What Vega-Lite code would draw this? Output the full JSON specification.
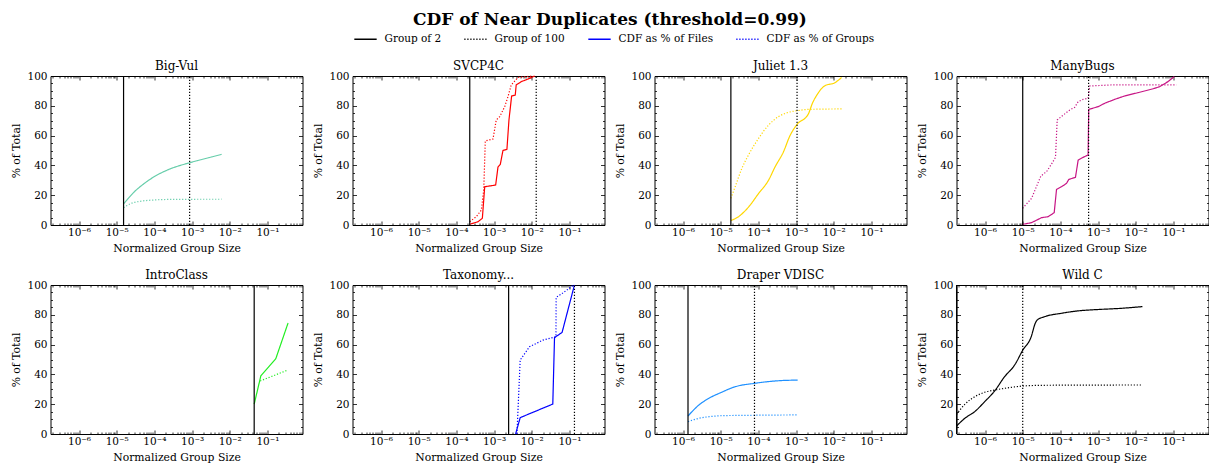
{
"$schema": "https://vega.github.io/schema/vega-lite/v6.json",
"background": "white",
"padding": {"left": 9.5, "top": 11, "right": 2, "bottom": 2},
"title": {"text": "CDF of Near Duplicates (threshold=0.99)", "fontSize": 17, "fontWeight": "bold", "font": "DejaVu Serif", "anchor": "middle", "offset": -2, "color": "#000"},
"datasets": {"all": [
{"d":"Big-Vul","kind":"CDF as % of Files","x":1.52e-5,"y":14.1},
{"d":"Big-Vul","kind":"CDF as % of Files","x":2.97e-5,"y":22.4},
{"d":"Big-Vul","kind":"CDF as % of Files","x":5.46e-5,"y":28},
{"d":"Big-Vul","kind":"CDF as % of Files","x":1.0e-4,"y":32.5},
{"d":"Big-Vul","kind":"CDF as % of Files","x":2.26e-4,"y":37},
{"d":"Big-Vul","kind":"CDF as % of Files","x":8.63e-4,"y":41.8},
{"d":"Big-Vul","kind":"CDF as % of Files","x":1.72e-3,"y":43.8},
{"d":"Big-Vul","kind":"CDF as % of Files","x":6.07e-3,"y":47.4},
{"d":"Big-Vul","kind":"CDF as % of Groups","x":1.52e-5,"y":11.6},
{"d":"Big-Vul","kind":"CDF as % of Groups","x":2.42e-5,"y":14.5},
{"d":"Big-Vul","kind":"CDF as % of Groups","x":4.46e-5,"y":16},
{"d":"Big-Vul","kind":"CDF as % of Groups","x":1.0e-4,"y":16.8},
{"d":"Big-Vul","kind":"CDF as % of Groups","x":3.4e-4,"y":17.2},
{"d":"Big-Vul","kind":"CDF as % of Groups","x":6.07e-3,"y":17.3},
{"d":"Big-Vul","kind":"Group of 2","x":1.52e-5},
{"d":"Big-Vul","kind":"Group of 100","x":8.6e-4},
{"d":"SVCP4C","kind":"CDF as % of Files","x":2.26e-4,"y":0.5},
{"d":"SVCP4C","kind":"CDF as % of Files","x":3.75e-4,"y":2.2},
{"d":"SVCP4C","kind":"CDF as % of Files","x":4.88e-4,"y":4.5},
{"d":"SVCP4C","kind":"CDF as % of Files","x":5.64e-4,"y":25.7},
{"d":"SVCP4C","kind":"CDF as % of Files","x":1.10e-3,"y":26.8},
{"d":"SVCP4C","kind":"CDF as % of Files","x":1.27e-3,"y":39},
{"d":"SVCP4C","kind":"CDF as % of Files","x":1.46e-3,"y":40.7},
{"d":"SVCP4C","kind":"CDF as % of Files","x":1.72e-3,"y":50},
{"d":"SVCP4C","kind":"CDF as % of Files","x":2.19e-3,"y":50.8},
{"d":"SVCP4C","kind":"CDF as % of Files","x":2.48e-3,"y":70.5},
{"d":"SVCP4C","kind":"CDF as % of Files","x":2.92e-3,"y":86.6},
{"d":"SVCP4C","kind":"CDF as % of Files","x":3.64e-3,"y":87.2},
{"d":"SVCP4C","kind":"CDF as % of Files","x":3.86e-3,"y":94},
{"d":"SVCP4C","kind":"CDF as % of Files","x":5.25e-3,"y":96.2},
{"d":"SVCP4C","kind":"CDF as % of Files","x":8.75e-3,"y":98.4},
{"d":"SVCP4C","kind":"CDF as % of Files","x":1.19e-2,"y":100},
{"d":"SVCP4C","kind":"CDF as % of Groups","x":2.26e-4,"y":2.2},
{"d":"SVCP4C","kind":"CDF as % of Groups","x":3.38e-4,"y":5.6},
{"d":"SVCP4C","kind":"CDF as % of Groups","x":4.58e-4,"y":10},
{"d":"SVCP4C","kind":"CDF as % of Groups","x":5.31e-4,"y":23.5},
{"d":"SVCP4C","kind":"CDF as % of Groups","x":5.85e-4,"y":56.4},
{"d":"SVCP4C","kind":"CDF as % of Groups","x":9.35e-4,"y":57.7},
{"d":"SVCP4C","kind":"CDF as % of Groups","x":1.14e-3,"y":70.5},
{"d":"SVCP4C","kind":"CDF as % of Groups","x":1.41e-3,"y":72.7},
{"d":"SVCP4C","kind":"CDF as % of Groups","x":1.91e-3,"y":79.4},
{"d":"SVCP4C","kind":"CDF as % of Groups","x":2.33e-3,"y":86},
{"d":"SVCP4C","kind":"CDF as % of Groups","x":2.85e-3,"y":94},
{"d":"SVCP4C","kind":"CDF as % of Groups","x":4.29e-3,"y":99},
{"d":"SVCP4C","kind":"CDF as % of Groups","x":1.07e-2,"y":100},
{"d":"SVCP4C","kind":"Group of 2","x":2.26e-4},
{"d":"SVCP4C","kind":"Group of 100","x":1.31e-2},
{"d":"Juliet 1.3","kind":"CDF as % of Files","x":1.86e-5,"y":3},
{"d":"Juliet 1.3","kind":"CDF as % of Files","x":2.97e-5,"y":5.6},
{"d":"Juliet 1.3","kind":"CDF as % of Files","x":5.46e-5,"y":12},
{"d":"Juliet 1.3","kind":"CDF as % of Files","x":1.0e-4,"y":21},
{"d":"Juliet 1.3","kind":"CDF as % of Files","x":1.85e-4,"y":30},
{"d":"Juliet 1.3","kind":"CDF as % of Files","x":2.77e-4,"y":39},
{"d":"Juliet 1.3","kind":"CDF as % of Files","x":4.6e-4,"y":49},
{"d":"Juliet 1.3","kind":"CDF as % of Files","x":6.9e-4,"y":60},
{"d":"Juliet 1.3","kind":"CDF as % of Files","x":1.06e-3,"y":67.5},
{"d":"Juliet 1.3","kind":"CDF as % of Files","x":2.11e-3,"y":74.5},
{"d":"Juliet 1.3","kind":"CDF as % of Files","x":2.69e-3,"y":81.5},
{"d":"Juliet 1.3","kind":"CDF as % of Files","x":3.72e-3,"y":88},
{"d":"Juliet 1.3","kind":"CDF as % of Files","x":5.82e-3,"y":93.5},
{"d":"Juliet 1.3","kind":"CDF as % of Files","x":1.07e-2,"y":95.5},
{"d":"Juliet 1.3","kind":"CDF as % of Files","x":1.61e-2,"y":99},
{"d":"Juliet 1.3","kind":"CDF as % of Groups","x":1.86e-5,"y":17.9},
{"d":"Juliet 1.3","kind":"CDF as % of Groups","x":2.42e-5,"y":25.7},
{"d":"Juliet 1.3","kind":"CDF as % of Groups","x":3.64e-5,"y":38},
{"d":"Juliet 1.3","kind":"CDF as % of Groups","x":5.46e-5,"y":47},
{"d":"Juliet 1.3","kind":"CDF as % of Groups","x":1.0e-4,"y":58},
{"d":"Juliet 1.3","kind":"CDF as % of Groups","x":1.85e-4,"y":67},
{"d":"Juliet 1.3","kind":"CDF as % of Groups","x":3.4e-4,"y":72.7},
{"d":"Juliet 1.3","kind":"CDF as % of Groups","x":6.25e-4,"y":75.6},
{"d":"Juliet 1.3","kind":"CDF as % of Groups","x":1.06e-3,"y":76.7},
{"d":"Juliet 1.3","kind":"CDF as % of Groups","x":2.11e-3,"y":77.6},
{"d":"Juliet 1.3","kind":"CDF as % of Groups","x":1.61e-2,"y":77.9},
{"d":"Juliet 1.3","kind":"Group of 2","x":1.86e-5},
{"d":"Juliet 1.3","kind":"Group of 100","x":1.06e-3},
{"d":"ManyBugs","kind":"CDF as % of Files","x":9.93e-6,"y":0.4},
{"d":"ManyBugs","kind":"CDF as % of Files","x":1.72e-5,"y":1.6},
{"d":"ManyBugs","kind":"CDF as % of Files","x":3.16e-5,"y":4.9},
{"d":"ManyBugs","kind":"CDF as % of Files","x":4.75e-5,"y":5.6},
{"d":"ManyBugs","kind":"CDF as % of Files","x":6.85e-5,"y":8.3},
{"d":"ManyBugs","kind":"CDF as % of Files","x":7.89e-5,"y":23.9},
{"d":"ManyBugs","kind":"CDF as % of Files","x":1.07e-4,"y":25.7},
{"d":"ManyBugs","kind":"CDF as % of Files","x":1.45e-4,"y":27.9},
{"d":"ManyBugs","kind":"CDF as % of Files","x":1.67e-4,"y":30.6},
{"d":"ManyBugs","kind":"CDF as % of Files","x":2.51e-4,"y":32},
{"d":"ManyBugs","kind":"CDF as % of Files","x":2.96e-4,"y":43.6},
{"d":"ManyBugs","kind":"CDF as % of Files","x":4.01e-4,"y":45.4},
{"d":"ManyBugs","kind":"CDF as % of Files","x":5.43e-4,"y":47},
{"d":"ManyBugs","kind":"CDF as % of Files","x":5.64e-4,"y":77.6},
{"d":"ManyBugs","kind":"CDF as % of Files","x":1.0e-3,"y":79.4},
{"d":"ManyBugs","kind":"CDF as % of Files","x":1.5e-3,"y":81.7},
{"d":"ManyBugs","kind":"CDF as % of Files","x":2.75e-3,"y":84.3},
{"d":"ManyBugs","kind":"CDF as % of Files","x":5.06e-3,"y":86.6},
{"d":"ManyBugs","kind":"CDF as % of Files","x":1.14e-2,"y":88.8},
{"d":"ManyBugs","kind":"CDF as % of Files","x":3.14e-2,"y":91.7},
{"d":"ManyBugs","kind":"CDF as % of Files","x":4.27e-2,"y":92.8},
{"d":"ManyBugs","kind":"CDF as % of Files","x":7.11e-2,"y":96.2},
{"d":"ManyBugs","kind":"CDF as % of Files","x":0.105,"y":99.6},
{"d":"ManyBugs","kind":"CDF as % of Groups","x":9.93e-6,"y":11.2},
{"d":"ManyBugs","kind":"CDF as % of Groups","x":1.72e-5,"y":17.9},
{"d":"ManyBugs","kind":"CDF as % of Groups","x":3.03e-5,"y":32.9},
{"d":"ManyBugs","kind":"CDF as % of Groups","x":4.29e-5,"y":35.8},
{"d":"ManyBugs","kind":"CDF as % of Groups","x":5.81e-5,"y":40.9},
{"d":"ManyBugs","kind":"CDF as % of Groups","x":7.41e-5,"y":45.4},
{"d":"ManyBugs","kind":"CDF as % of Groups","x":8.22e-5,"y":70.5},
{"d":"ManyBugs","kind":"CDF as % of Groups","x":1.19e-4,"y":73.8},
{"d":"ManyBugs","kind":"CDF as % of Groups","x":1.77e-4,"y":77.2},
{"d":"ManyBugs","kind":"CDF as % of Groups","x":2.40e-4,"y":79},
{"d":"ManyBugs","kind":"CDF as % of Groups","x":2.96e-4,"y":82.8},
{"d":"ManyBugs","kind":"CDF as % of Groups","x":4.01e-4,"y":84.3},
{"d":"ManyBugs","kind":"CDF as % of Groups","x":5.43e-4,"y":85},
{"d":"ManyBugs","kind":"CDF as % of Groups","x":6.0e-4,"y":93.3},
{"d":"ManyBugs","kind":"CDF as % of Groups","x":2.25e-3,"y":94},
{"d":"ManyBugs","kind":"CDF as % of Groups","x":0.12,"y":94},
{"d":"ManyBugs","kind":"Group of 2","x":1.0e-5},
{"d":"ManyBugs","kind":"Group of 100","x":5.6e-4},
{"d":"IntroClass","kind":"CDF as % of Files","x":0.0444,"y":20},
{"d":"IntroClass","kind":"CDF as % of Files","x":0.0667,"y":39},
{"d":"IntroClass","kind":"CDF as % of Files","x":0.166,"y":50.5},
{"d":"IntroClass","kind":"CDF as % of Files","x":0.352,"y":74.5},
{"d":"IntroClass","kind":"CDF as % of Groups","x":0.064,"y":35.6},
{"d":"IntroClass","kind":"CDF as % of Groups","x":0.352,"y":43},
{"d":"IntroClass","kind":"Group of 2","x":0.0444},
{"d":"Taxonomy...","kind":"CDF as % of Files","x":3.72e-3,"y":0},
{"d":"Taxonomy...","kind":"CDF as % of Files","x":4.93e-3,"y":11},
{"d":"Taxonomy...","kind":"CDF as % of Files","x":3.61e-2,"y":20.1},
{"d":"Taxonomy...","kind":"CDF as % of Files","x":4.01e-2,"y":64.7},
{"d":"Taxonomy...","kind":"CDF as % of Files","x":6.37e-2,"y":68.2},
{"d":"Taxonomy...","kind":"CDF as % of Files","x":0.1355,"y":100},
{"d":"Taxonomy...","kind":"CDF as % of Groups","x":4.04e-3,"y":0},
{"d":"Taxonomy...","kind":"CDF as % of Groups","x":4.93e-3,"y":49.7},
{"d":"Taxonomy...","kind":"CDF as % of Groups","x":8.75e-3,"y":58.6},
{"d":"Taxonomy...","kind":"CDF as % of Groups","x":1.97e-2,"y":63},
{"d":"Taxonomy...","kind":"CDF as % of Groups","x":4.37e-2,"y":65.3},
{"d":"Taxonomy...","kind":"CDF as % of Groups","x":4.42e-2,"y":91.7},
{"d":"Taxonomy...","kind":"CDF as % of Groups","x":6.65e-2,"y":94.6},
{"d":"Taxonomy...","kind":"CDF as % of Groups","x":0.130,"y":100},
{"d":"Taxonomy...","kind":"Group of 2","x":2.43e-3},
{"d":"Taxonomy...","kind":"Group of 100","x":0.1355},
{"d":"Draper VDISC","kind":"CDF as % of Files","x":1.355e-6,"y":12.1},
{"d":"Draper VDISC","kind":"CDF as % of Files","x":2.65e-6,"y":19.5},
{"d":"Draper VDISC","kind":"CDF as % of Files","x":4.88e-6,"y":24},
{"d":"Draper VDISC","kind":"CDF as % of Files","x":9.9e-6,"y":27.7},
{"d":"Draper VDISC","kind":"CDF as % of Files","x":2.47e-5,"y":31.8},
{"d":"Draper VDISC","kind":"CDF as % of Files","x":7.87e-5,"y":34},
{"d":"Draper VDISC","kind":"CDF as % of Files","x":2.82e-4,"y":35.6},
{"d":"Draper VDISC","kind":"CDF as % of Files","x":1.10e-3,"y":36.2},
{"d":"Draper VDISC","kind":"CDF as % of Groups","x":1.355e-6,"y":8.3},
{"d":"Draper VDISC","kind":"CDF as % of Groups","x":2.16e-6,"y":10},
{"d":"Draper VDISC","kind":"CDF as % of Groups","x":4.88e-6,"y":11.6},
{"d":"Draper VDISC","kind":"CDF as % of Groups","x":1.1e-5,"y":12.3},
{"d":"Draper VDISC","kind":"CDF as % of Groups","x":3.72e-5,"y":12.5},
{"d":"Draper VDISC","kind":"CDF as % of Groups","x":1.10e-3,"y":12.8},
{"d":"Draper VDISC","kind":"Group of 2","x":1.355e-6},
{"d":"Draper VDISC","kind":"Group of 100","x":7.87e-5},
{"d":"Wild C","kind":"CDF as % of Files","x":1.76e-7,"y":5.4},
{"d":"Wild C","kind":"CDF as % of Files","x":2.9e-7,"y":10.5},
{"d":"Wild C","kind":"CDF as % of Files","x":5.33e-7,"y":15},
{"d":"Wild C","kind":"CDF as % of Files","x":9.8e-7,"y":21.7},
{"d":"Wild C","kind":"CDF as % of Files","x":1.8e-6,"y":28.9},
{"d":"Wild C","kind":"CDF as % of Files","x":3.31e-6,"y":38.5},
{"d":"Wild C","kind":"CDF as % of Files","x":6.1e-6,"y":46.3},
{"d":"Wild C","kind":"CDF as % of Files","x":1.01e-5,"y":56.4},
{"d":"Wild C","kind":"CDF as % of Files","x":1.68e-5,"y":65.3},
{"d":"Wild C","kind":"CDF as % of Files","x":2.15e-5,"y":74.3},
{"d":"Wild C","kind":"CDF as % of Files","x":2.42e-5,"y":76.5},
{"d":"Wild C","kind":"CDF as % of Files","x":3.78e-5,"y":78.7},
{"d":"Wild C","kind":"CDF as % of Files","x":1.045e-4,"y":81},
{"d":"Wild C","kind":"CDF as % of Files","x":2.88e-4,"y":82.6},
{"d":"Wild C","kind":"CDF as % of Files","x":1.08e-3,"y":83.6},
{"d":"Wild C","kind":"CDF as % of Files","x":3.3e-3,"y":84.2},
{"d":"Wild C","kind":"CDF as % of Files","x":1.5e-2,"y":85.5},
{"d":"Wild C","kind":"CDF as % of Groups","x":1.76e-7,"y":13.2},
{"d":"Wild C","kind":"CDF as % of Groups","x":2.9e-7,"y":19.9},
{"d":"Wild C","kind":"CDF as % of Groups","x":5.33e-7,"y":25},
{"d":"Wild C","kind":"CDF as % of Groups","x":9.8e-7,"y":28},
{"d":"Wild C","kind":"CDF as % of Groups","x":1.8e-6,"y":29.5},
{"d":"Wild C","kind":"CDF as % of Groups","x":4.98e-6,"y":31.3},
{"d":"Wild C","kind":"CDF as % of Groups","x":1.01e-5,"y":32.2},
{"d":"Wild C","kind":"CDF as % of Groups","x":3.78e-5,"y":32.7},
{"d":"Wild C","kind":"CDF as % of Groups","x":1.5e-2,"y":32.9},
{"d":"Wild C","kind":"Group of 2","x":1.76e-7},
{"d":"Wild C","kind":"Group of 100","x":1.0e-5}
]},
"data": {"name": "all"},
"bounds": "flush",
"columns": 4,
"spacing": {"row": 60, "column": 50},
"concat": [
{"title": "Big-Vul", "width": 252, "height": 149,
 "transform": [{"filter": {"field": "d", "equal": "Big-Vul"}}],
 "layer": [
  {"transform": [{"filter": {"field": "kind", "oneOf": ["CDF as % of Files", "CDF as % of Groups"]}}],
   "mark": {"type": "line", "color": "#66cdaa", "strokeWidth": 1.2, "interpolate": "monotone"},
   "encoding": {
    "x": {"field": "x", "type": "quantitative", "scale": {"type": "log", "domain": [1.75e-7, 0.85], "nice": false}, "axis": {"orient": "bottom", "values": [2e-7,3e-7,4e-7,5e-7,6e-7,7e-7,8e-7,9e-7,1e-6,2e-6,3e-6,4e-6,5e-6,6e-6,7e-6,8e-6,9e-6,1e-5,2e-5,3e-5,4e-5,5e-5,6e-5,7e-5,8e-5,9e-5,1e-4,2e-4,3e-4,4e-4,5e-4,6e-4,7e-4,8e-4,9e-4,0.001,0.002,0.003,0.004,0.005,0.006,0.007,0.008,0.009,0.01,0.02,0.03,0.04,0.05,0.06,0.07,0.08,0.09,0.1,0.2,0.3,0.4,0.5,0.6,0.7,0.8], "labelExpr": "abs(log(datum.value)/LN10-round(log(datum.value)/LN10))<0.001 ? '10'+['⁻⁷','⁻⁶','⁻⁵','⁻⁴','⁻³','⁻²','⁻¹','⁰'][round(log(datum.value)/LN10)+7] : ''", "labelOverlap": false, "labelFlush": false, "tickSize": {"condition": {"test": "abs(log(datum.value)/LN10-round(log(datum.value)/LN10))<0.001", "value": -4}, "value": -2}, "labelPadding": 6, "title": "Normalized Group Size", "titlePadding": 3}},
    "y": {"field": "y", "type": "quantitative", "scale": {"domain": [0, 100], "nice": false}, "axis": {"orient": "left", "values": [0,5,10,15,20,25,30,35,40,45,50,55,60,65,70,75,80,85,90,95,100], "labelExpr": "datum.value % 20 == 0 ? datum.label : ''", "tickSize": {"condition": {"test": "datum.value % 20 == 0", "value": -4}, "value": -2}, "labelPadding": 7.5, "title": "% of Total", "titlePadding": 5}},
    "strokeDash": {"field": "kind", "type": "nominal", "scale": {"domain": ["Group of 2", "Group of 100", "CDF as % of Files", "CDF as % of Groups"], "range": [[1, 0], [1.2, 1.8], [1, 0], [1.2, 1.8]]}, "legend": {"title": null, "orient": "none", "legendX": 303, "legendY": -49, "direction": "horizontal", "symbolType": "stroke", "symbolSize": 500, "symbolStrokeWidth": 1.5, "labelFontSize": 10.5, "labelFont": "DejaVu Serif", "labelColor": "#000", "columnPadding": 19, "labelOffset": 7}}
   }},
  {"transform": [{"filter": {"field": "kind", "oneOf": ["Group of 2", "Group of 100"]}}],
   "mark": {"type": "rule", "strokeWidth": 1.2},
   "encoding": {
    "x": {"field": "x", "type": "quantitative", "scale": {"type": "log", "domain": [1.75e-7, 0.85], "nice": false}, "axis": {"orient": "top", "values": [2e-7,3e-7,4e-7,5e-7,6e-7,7e-7,8e-7,9e-7,1e-6,2e-6,3e-6,4e-6,5e-6,6e-6,7e-6,8e-6,9e-6,1e-5,2e-5,3e-5,4e-5,5e-5,6e-5,7e-5,8e-5,9e-5,1e-4,2e-4,3e-4,4e-4,5e-4,6e-4,7e-4,8e-4,9e-4,0.001,0.002,0.003,0.004,0.005,0.006,0.007,0.008,0.009,0.01,0.02,0.03,0.04,0.05,0.06,0.07,0.08,0.09,0.1,0.2,0.3,0.4,0.5,0.6,0.7,0.8], "labels": false, "title": null, "tickSize": {"condition": {"test": "abs(log(datum.value)/LN10-round(log(datum.value)/LN10))<0.001", "value": -4}, "value": -2}}},
    "y": {"datum": 0, "type": "quantitative", "scale": {"domain": [0, 100], "nice": false}, "axis": {"orient": "right", "values": [0,5,10,15,20,25,30,35,40,45,50,55,60,65,70,75,80,85,90,95,100], "labels": false, "title": null, "tickSize": {"condition": {"test": "datum.value % 20 == 0", "value": -4}, "value": -2}}},
    "y2": {"datum": 100},
    "color": {"field": "kind", "type": "nominal", "scale": {"domain": ["Group of 2", "Group of 100", "CDF as % of Files", "CDF as % of Groups"], "range": ["#000000", "#000000", "#0000ff", "#0000ff"]}, "legend": {"title": null, "orient": "none", "legendX": 303, "legendY": -49, "direction": "horizontal", "symbolType": "stroke", "symbolSize": 500, "symbolStrokeWidth": 1.5, "labelFontSize": 10.5, "labelFont": "DejaVu Serif", "labelColor": "#000", "columnPadding": 19, "labelOffset": 7}},
    "strokeDash": {"field": "kind", "type": "nominal", "scale": {"domain": ["Group of 2", "Group of 100", "CDF as % of Files", "CDF as % of Groups"], "range": [[1, 0], [1.2, 1.8], [1, 0], [1.2, 1.8]]}, "legend": {"title": null, "orient": "none", "legendX": 303, "legendY": -49, "direction": "horizontal", "symbolType": "stroke", "symbolSize": 500, "symbolStrokeWidth": 1.5, "labelFontSize": 10.5, "labelFont": "DejaVu Serif", "labelColor": "#000", "columnPadding": 19, "labelOffset": 7}}
   }}
 ],
 "resolve": {"axis": {"x": "independent", "y": "independent"}}
},
{"title": "SVCP4C", "width": 252, "height": 149,
 "transform": [{"filter": {"field": "d", "equal": "SVCP4C"}}],
 "layer": [
  {"transform": [{"filter": {"field": "kind", "oneOf": ["CDF as % of Files", "CDF as % of Groups"]}}],
   "mark": {"type": "line", "color": "#ff0000", "strokeWidth": 1.2, "interpolate": "linear"},
   "encoding": {
    "x": {"field": "x", "type": "quantitative", "scale": {"type": "log", "domain": [1.75e-7, 0.85], "nice": false}, "axis": {"orient": "bottom", "values": [2e-7,3e-7,4e-7,5e-7,6e-7,7e-7,8e-7,9e-7,1e-6,2e-6,3e-6,4e-6,5e-6,6e-6,7e-6,8e-6,9e-6,1e-5,2e-5,3e-5,4e-5,5e-5,6e-5,7e-5,8e-5,9e-5,1e-4,2e-4,3e-4,4e-4,5e-4,6e-4,7e-4,8e-4,9e-4,0.001,0.002,0.003,0.004,0.005,0.006,0.007,0.008,0.009,0.01,0.02,0.03,0.04,0.05,0.06,0.07,0.08,0.09,0.1,0.2,0.3,0.4,0.5,0.6,0.7,0.8], "labelExpr": "abs(log(datum.value)/LN10-round(log(datum.value)/LN10))<0.001 ? '10'+['⁻⁷','⁻⁶','⁻⁵','⁻⁴','⁻³','⁻²','⁻¹','⁰'][round(log(datum.value)/LN10)+7] : ''", "labelOverlap": false, "labelFlush": false, "tickSize": {"condition": {"test": "abs(log(datum.value)/LN10-round(log(datum.value)/LN10))<0.001", "value": -4}, "value": -2}, "labelPadding": 6, "title": "Normalized Group Size", "titlePadding": 3}},
    "y": {"field": "y", "type": "quantitative", "scale": {"domain": [0, 100], "nice": false}, "axis": {"orient": "left", "values": [0,5,10,15,20,25,30,35,40,45,50,55,60,65,70,75,80,85,90,95,100], "labelExpr": "datum.value % 20 == 0 ? datum.label : ''", "tickSize": {"condition": {"test": "datum.value % 20 == 0", "value": -4}, "value": -2}, "labelPadding": 7.5, "title": "% of Total", "titlePadding": 5}},
    "strokeDash": {"field": "kind", "type": "nominal", "scale": {"domain": ["Group of 2", "Group of 100", "CDF as % of Files", "CDF as % of Groups"], "range": [[1, 0], [1.2, 1.8], [1, 0], [1.2, 1.8]]}, "legend": {"title": null, "orient": "none", "legendX": 303, "legendY": -49, "direction": "horizontal", "symbolType": "stroke", "symbolSize": 500, "symbolStrokeWidth": 1.5, "labelFontSize": 10.5, "labelFont": "DejaVu Serif", "labelColor": "#000", "columnPadding": 19, "labelOffset": 7}}
   }},
  {"transform": [{"filter": {"field": "kind", "oneOf": ["Group of 2", "Group of 100"]}}],
   "mark": {"type": "rule", "strokeWidth": 1.2},
   "encoding": {
    "x": {"field": "x", "type": "quantitative", "scale": {"type": "log", "domain": [1.75e-7, 0.85], "nice": false}, "axis": {"orient": "top", "values": [2e-7,3e-7,4e-7,5e-7,6e-7,7e-7,8e-7,9e-7,1e-6,2e-6,3e-6,4e-6,5e-6,6e-6,7e-6,8e-6,9e-6,1e-5,2e-5,3e-5,4e-5,5e-5,6e-5,7e-5,8e-5,9e-5,1e-4,2e-4,3e-4,4e-4,5e-4,6e-4,7e-4,8e-4,9e-4,0.001,0.002,0.003,0.004,0.005,0.006,0.007,0.008,0.009,0.01,0.02,0.03,0.04,0.05,0.06,0.07,0.08,0.09,0.1,0.2,0.3,0.4,0.5,0.6,0.7,0.8], "labels": false, "title": null, "tickSize": {"condition": {"test": "abs(log(datum.value)/LN10-round(log(datum.value)/LN10))<0.001", "value": -4}, "value": -2}}},
    "y": {"datum": 0, "type": "quantitative", "scale": {"domain": [0, 100], "nice": false}, "axis": {"orient": "right", "values": [0,5,10,15,20,25,30,35,40,45,50,55,60,65,70,75,80,85,90,95,100], "labels": false, "title": null, "tickSize": {"condition": {"test": "datum.value % 20 == 0", "value": -4}, "value": -2}}},
    "y2": {"datum": 100},
    "color": {"field": "kind", "type": "nominal", "scale": {"domain": ["Group of 2", "Group of 100", "CDF as % of Files", "CDF as % of Groups"], "range": ["#000000", "#000000", "#0000ff", "#0000ff"]}, "legend": {"title": null, "orient": "none", "legendX": 303, "legendY": -49, "direction": "horizontal", "symbolType": "stroke", "symbolSize": 500, "symbolStrokeWidth": 1.5, "labelFontSize": 10.5, "labelFont": "DejaVu Serif", "labelColor": "#000", "columnPadding": 19, "labelOffset": 7}},
    "strokeDash": {"field": "kind", "type": "nominal", "scale": {"domain": ["Group of 2", "Group of 100", "CDF as % of Files", "CDF as % of Groups"], "range": [[1, 0], [1.2, 1.8], [1, 0], [1.2, 1.8]]}, "legend": {"title": null, "orient": "none", "legendX": 303, "legendY": -49, "direction": "horizontal", "symbolType": "stroke", "symbolSize": 500, "symbolStrokeWidth": 1.5, "labelFontSize": 10.5, "labelFont": "DejaVu Serif", "labelColor": "#000", "columnPadding": 19, "labelOffset": 7}}
   }}
 ],
 "resolve": {"axis": {"x": "independent", "y": "independent"}}
},
{"title": "Juliet 1.3", "width": 252, "height": 149,
 "transform": [{"filter": {"field": "d", "equal": "Juliet 1.3"}}],
 "layer": [
  {"transform": [{"filter": {"field": "kind", "oneOf": ["CDF as % of Files", "CDF as % of Groups"]}}],
   "mark": {"type": "line", "color": "#ffd700", "strokeWidth": 1.2, "interpolate": "monotone"},
   "encoding": {
    "x": {"field": "x", "type": "quantitative", "scale": {"type": "log", "domain": [1.75e-7, 0.85], "nice": false}, "axis": {"orient": "bottom", "values": [2e-7,3e-7,4e-7,5e-7,6e-7,7e-7,8e-7,9e-7,1e-6,2e-6,3e-6,4e-6,5e-6,6e-6,7e-6,8e-6,9e-6,1e-5,2e-5,3e-5,4e-5,5e-5,6e-5,7e-5,8e-5,9e-5,1e-4,2e-4,3e-4,4e-4,5e-4,6e-4,7e-4,8e-4,9e-4,0.001,0.002,0.003,0.004,0.005,0.006,0.007,0.008,0.009,0.01,0.02,0.03,0.04,0.05,0.06,0.07,0.08,0.09,0.1,0.2,0.3,0.4,0.5,0.6,0.7,0.8], "labelExpr": "abs(log(datum.value)/LN10-round(log(datum.value)/LN10))<0.001 ? '10'+['⁻⁷','⁻⁶','⁻⁵','⁻⁴','⁻³','⁻²','⁻¹','⁰'][round(log(datum.value)/LN10)+7] : ''", "labelOverlap": false, "labelFlush": false, "tickSize": {"condition": {"test": "abs(log(datum.value)/LN10-round(log(datum.value)/LN10))<0.001", "value": -4}, "value": -2}, "labelPadding": 6, "title": "Normalized Group Size", "titlePadding": 3}},
    "y": {"field": "y", "type": "quantitative", "scale": {"domain": [0, 100], "nice": false}, "axis": {"orient": "left", "values": [0,5,10,15,20,25,30,35,40,45,50,55,60,65,70,75,80,85,90,95,100], "labelExpr": "datum.value % 20 == 0 ? datum.label : ''", "tickSize": {"condition": {"test": "datum.value % 20 == 0", "value": -4}, "value": -2}, "labelPadding": 7.5, "title": "% of Total", "titlePadding": 5}},
    "strokeDash": {"field": "kind", "type": "nominal", "scale": {"domain": ["Group of 2", "Group of 100", "CDF as % of Files", "CDF as % of Groups"], "range": [[1, 0], [1.2, 1.8], [1, 0], [1.2, 1.8]]}, "legend": {"title": null, "orient": "none", "legendX": 303, "legendY": -49, "direction": "horizontal", "symbolType": "stroke", "symbolSize": 500, "symbolStrokeWidth": 1.5, "labelFontSize": 10.5, "labelFont": "DejaVu Serif", "labelColor": "#000", "columnPadding": 19, "labelOffset": 7}}
   }},
  {"transform": [{"filter": {"field": "kind", "oneOf": ["Group of 2", "Group of 100"]}}],
   "mark": {"type": "rule", "strokeWidth": 1.2},
   "encoding": {
    "x": {"field": "x", "type": "quantitative", "scale": {"type": "log", "domain": [1.75e-7, 0.85], "nice": false}, "axis": {"orient": "top", "values": [2e-7,3e-7,4e-7,5e-7,6e-7,7e-7,8e-7,9e-7,1e-6,2e-6,3e-6,4e-6,5e-6,6e-6,7e-6,8e-6,9e-6,1e-5,2e-5,3e-5,4e-5,5e-5,6e-5,7e-5,8e-5,9e-5,1e-4,2e-4,3e-4,4e-4,5e-4,6e-4,7e-4,8e-4,9e-4,0.001,0.002,0.003,0.004,0.005,0.006,0.007,0.008,0.009,0.01,0.02,0.03,0.04,0.05,0.06,0.07,0.08,0.09,0.1,0.2,0.3,0.4,0.5,0.6,0.7,0.8], "labels": false, "title": null, "tickSize": {"condition": {"test": "abs(log(datum.value)/LN10-round(log(datum.value)/LN10))<0.001", "value": -4}, "value": -2}}},
    "y": {"datum": 0, "type": "quantitative", "scale": {"domain": [0, 100], "nice": false}, "axis": {"orient": "right", "values": [0,5,10,15,20,25,30,35,40,45,50,55,60,65,70,75,80,85,90,95,100], "labels": false, "title": null, "tickSize": {"condition": {"test": "datum.value % 20 == 0", "value": -4}, "value": -2}}},
    "y2": {"datum": 100},
    "color": {"field": "kind", "type": "nominal", "scale": {"domain": ["Group of 2", "Group of 100", "CDF as % of Files", "CDF as % of Groups"], "range": ["#000000", "#000000", "#0000ff", "#0000ff"]}, "legend": {"title": null, "orient": "none", "legendX": 303, "legendY": -49, "direction": "horizontal", "symbolType": "stroke", "symbolSize": 500, "symbolStrokeWidth": 1.5, "labelFontSize": 10.5, "labelFont": "DejaVu Serif", "labelColor": "#000", "columnPadding": 19, "labelOffset": 7}},
    "strokeDash": {"field": "kind", "type": "nominal", "scale": {"domain": ["Group of 2", "Group of 100", "CDF as % of Files", "CDF as % of Groups"], "range": [[1, 0], [1.2, 1.8], [1, 0], [1.2, 1.8]]}, "legend": {"title": null, "orient": "none", "legendX": 303, "legendY": -49, "direction": "horizontal", "symbolType": "stroke", "symbolSize": 500, "symbolStrokeWidth": 1.5, "labelFontSize": 10.5, "labelFont": "DejaVu Serif", "labelColor": "#000", "columnPadding": 19, "labelOffset": 7}}
   }}
 ],
 "resolve": {"axis": {"x": "independent", "y": "independent"}}
},
{"title": "ManyBugs", "width": 252, "height": 149,
 "transform": [{"filter": {"field": "d", "equal": "ManyBugs"}}],
 "layer": [
  {"transform": [{"filter": {"field": "kind", "oneOf": ["CDF as % of Files", "CDF as % of Groups"]}}],
   "mark": {"type": "line", "color": "#c71585", "strokeWidth": 1.2, "interpolate": "linear"},
   "encoding": {
    "x": {"field": "x", "type": "quantitative", "scale": {"type": "log", "domain": [1.75e-7, 0.85], "nice": false}, "axis": {"orient": "bottom", "values": [2e-7,3e-7,4e-7,5e-7,6e-7,7e-7,8e-7,9e-7,1e-6,2e-6,3e-6,4e-6,5e-6,6e-6,7e-6,8e-6,9e-6,1e-5,2e-5,3e-5,4e-5,5e-5,6e-5,7e-5,8e-5,9e-5,1e-4,2e-4,3e-4,4e-4,5e-4,6e-4,7e-4,8e-4,9e-4,0.001,0.002,0.003,0.004,0.005,0.006,0.007,0.008,0.009,0.01,0.02,0.03,0.04,0.05,0.06,0.07,0.08,0.09,0.1,0.2,0.3,0.4,0.5,0.6,0.7,0.8], "labelExpr": "abs(log(datum.value)/LN10-round(log(datum.value)/LN10))<0.001 ? '10'+['⁻⁷','⁻⁶','⁻⁵','⁻⁴','⁻³','⁻²','⁻¹','⁰'][round(log(datum.value)/LN10)+7] : ''", "labelOverlap": false, "labelFlush": false, "tickSize": {"condition": {"test": "abs(log(datum.value)/LN10-round(log(datum.value)/LN10))<0.001", "value": -4}, "value": -2}, "labelPadding": 6, "title": "Normalized Group Size", "titlePadding": 3}},
    "y": {"field": "y", "type": "quantitative", "scale": {"domain": [0, 100], "nice": false}, "axis": {"orient": "left", "values": [0,5,10,15,20,25,30,35,40,45,50,55,60,65,70,75,80,85,90,95,100], "labelExpr": "datum.value % 20 == 0 ? datum.label : ''", "tickSize": {"condition": {"test": "datum.value % 20 == 0", "value": -4}, "value": -2}, "labelPadding": 7.5, "title": "% of Total", "titlePadding": 5}},
    "strokeDash": {"field": "kind", "type": "nominal", "scale": {"domain": ["Group of 2", "Group of 100", "CDF as % of Files", "CDF as % of Groups"], "range": [[1, 0], [1.2, 1.8], [1, 0], [1.2, 1.8]]}, "legend": {"title": null, "orient": "none", "legendX": 303, "legendY": -49, "direction": "horizontal", "symbolType": "stroke", "symbolSize": 500, "symbolStrokeWidth": 1.5, "labelFontSize": 10.5, "labelFont": "DejaVu Serif", "labelColor": "#000", "columnPadding": 19, "labelOffset": 7}}
   }},
  {"transform": [{"filter": {"field": "kind", "oneOf": ["Group of 2", "Group of 100"]}}],
   "mark": {"type": "rule", "strokeWidth": 1.2},
   "encoding": {
    "x": {"field": "x", "type": "quantitative", "scale": {"type": "log", "domain": [1.75e-7, 0.85], "nice": false}, "axis": {"orient": "top", "values": [2e-7,3e-7,4e-7,5e-7,6e-7,7e-7,8e-7,9e-7,1e-6,2e-6,3e-6,4e-6,5e-6,6e-6,7e-6,8e-6,9e-6,1e-5,2e-5,3e-5,4e-5,5e-5,6e-5,7e-5,8e-5,9e-5,1e-4,2e-4,3e-4,4e-4,5e-4,6e-4,7e-4,8e-4,9e-4,0.001,0.002,0.003,0.004,0.005,0.006,0.007,0.008,0.009,0.01,0.02,0.03,0.04,0.05,0.06,0.07,0.08,0.09,0.1,0.2,0.3,0.4,0.5,0.6,0.7,0.8], "labels": false, "title": null, "tickSize": {"condition": {"test": "abs(log(datum.value)/LN10-round(log(datum.value)/LN10))<0.001", "value": -4}, "value": -2}}},
    "y": {"datum": 0, "type": "quantitative", "scale": {"domain": [0, 100], "nice": false}, "axis": {"orient": "right", "values": [0,5,10,15,20,25,30,35,40,45,50,55,60,65,70,75,80,85,90,95,100], "labels": false, "title": null, "tickSize": {"condition": {"test": "datum.value % 20 == 0", "value": -4}, "value": -2}}},
    "y2": {"datum": 100},
    "color": {"field": "kind", "type": "nominal", "scale": {"domain": ["Group of 2", "Group of 100", "CDF as % of Files", "CDF as % of Groups"], "range": ["#000000", "#000000", "#0000ff", "#0000ff"]}, "legend": {"title": null, "orient": "none", "legendX": 303, "legendY": -49, "direction": "horizontal", "symbolType": "stroke", "symbolSize": 500, "symbolStrokeWidth": 1.5, "labelFontSize": 10.5, "labelFont": "DejaVu Serif", "labelColor": "#000", "columnPadding": 19, "labelOffset": 7}},
    "strokeDash": {"field": "kind", "type": "nominal", "scale": {"domain": ["Group of 2", "Group of 100", "CDF as % of Files", "CDF as % of Groups"], "range": [[1, 0], [1.2, 1.8], [1, 0], [1.2, 1.8]]}, "legend": {"title": null, "orient": "none", "legendX": 303, "legendY": -49, "direction": "horizontal", "symbolType": "stroke", "symbolSize": 500, "symbolStrokeWidth": 1.5, "labelFontSize": 10.5, "labelFont": "DejaVu Serif", "labelColor": "#000", "columnPadding": 19, "labelOffset": 7}}
   }}
 ],
 "resolve": {"axis": {"x": "independent", "y": "independent"}}
},
{"title": "IntroClass", "width": 252, "height": 149,
 "transform": [{"filter": {"field": "d", "equal": "IntroClass"}}],
 "layer": [
  {"transform": [{"filter": {"field": "kind", "oneOf": ["CDF as % of Files", "CDF as % of Groups"]}}],
   "mark": {"type": "line", "color": "#22ee22", "strokeWidth": 1.2, "interpolate": "linear"},
   "encoding": {
    "x": {"field": "x", "type": "quantitative", "scale": {"type": "log", "domain": [1.75e-7, 0.85], "nice": false}, "axis": {"orient": "bottom", "values": [2e-7,3e-7,4e-7,5e-7,6e-7,7e-7,8e-7,9e-7,1e-6,2e-6,3e-6,4e-6,5e-6,6e-6,7e-6,8e-6,9e-6,1e-5,2e-5,3e-5,4e-5,5e-5,6e-5,7e-5,8e-5,9e-5,1e-4,2e-4,3e-4,4e-4,5e-4,6e-4,7e-4,8e-4,9e-4,0.001,0.002,0.003,0.004,0.005,0.006,0.007,0.008,0.009,0.01,0.02,0.03,0.04,0.05,0.06,0.07,0.08,0.09,0.1,0.2,0.3,0.4,0.5,0.6,0.7,0.8], "labelExpr": "abs(log(datum.value)/LN10-round(log(datum.value)/LN10))<0.001 ? '10'+['⁻⁷','⁻⁶','⁻⁵','⁻⁴','⁻³','⁻²','⁻¹','⁰'][round(log(datum.value)/LN10)+7] : ''", "labelOverlap": false, "labelFlush": false, "tickSize": {"condition": {"test": "abs(log(datum.value)/LN10-round(log(datum.value)/LN10))<0.001", "value": -4}, "value": -2}, "labelPadding": 6, "title": "Normalized Group Size", "titlePadding": 3}},
    "y": {"field": "y", "type": "quantitative", "scale": {"domain": [0, 100], "nice": false}, "axis": {"orient": "left", "values": [0,5,10,15,20,25,30,35,40,45,50,55,60,65,70,75,80,85,90,95,100], "labelExpr": "datum.value % 20 == 0 ? datum.label : ''", "tickSize": {"condition": {"test": "datum.value % 20 == 0", "value": -4}, "value": -2}, "labelPadding": 7.5, "title": "% of Total", "titlePadding": 5}},
    "strokeDash": {"field": "kind", "type": "nominal", "scale": {"domain": ["Group of 2", "Group of 100", "CDF as % of Files", "CDF as % of Groups"], "range": [[1, 0], [1.2, 1.8], [1, 0], [1.2, 1.8]]}, "legend": {"title": null, "orient": "none", "legendX": 303, "legendY": -49, "direction": "horizontal", "symbolType": "stroke", "symbolSize": 500, "symbolStrokeWidth": 1.5, "labelFontSize": 10.5, "labelFont": "DejaVu Serif", "labelColor": "#000", "columnPadding": 19, "labelOffset": 7}}
   }},
  {"transform": [{"filter": {"field": "kind", "oneOf": ["Group of 2", "Group of 100"]}}],
   "mark": {"type": "rule", "strokeWidth": 1.2},
   "encoding": {
    "x": {"field": "x", "type": "quantitative", "scale": {"type": "log", "domain": [1.75e-7, 0.85], "nice": false}, "axis": {"orient": "top", "values": [2e-7,3e-7,4e-7,5e-7,6e-7,7e-7,8e-7,9e-7,1e-6,2e-6,3e-6,4e-6,5e-6,6e-6,7e-6,8e-6,9e-6,1e-5,2e-5,3e-5,4e-5,5e-5,6e-5,7e-5,8e-5,9e-5,1e-4,2e-4,3e-4,4e-4,5e-4,6e-4,7e-4,8e-4,9e-4,0.001,0.002,0.003,0.004,0.005,0.006,0.007,0.008,0.009,0.01,0.02,0.03,0.04,0.05,0.06,0.07,0.08,0.09,0.1,0.2,0.3,0.4,0.5,0.6,0.7,0.8], "labels": false, "title": null, "tickSize": {"condition": {"test": "abs(log(datum.value)/LN10-round(log(datum.value)/LN10))<0.001", "value": -4}, "value": -2}}},
    "y": {"datum": 0, "type": "quantitative", "scale": {"domain": [0, 100], "nice": false}, "axis": {"orient": "right", "values": [0,5,10,15,20,25,30,35,40,45,50,55,60,65,70,75,80,85,90,95,100], "labels": false, "title": null, "tickSize": {"condition": {"test": "datum.value % 20 == 0", "value": -4}, "value": -2}}},
    "y2": {"datum": 100},
    "color": {"field": "kind", "type": "nominal", "scale": {"domain": ["Group of 2", "Group of 100", "CDF as % of Files", "CDF as % of Groups"], "range": ["#000000", "#000000", "#0000ff", "#0000ff"]}, "legend": {"title": null, "orient": "none", "legendX": 303, "legendY": -49, "direction": "horizontal", "symbolType": "stroke", "symbolSize": 500, "symbolStrokeWidth": 1.5, "labelFontSize": 10.5, "labelFont": "DejaVu Serif", "labelColor": "#000", "columnPadding": 19, "labelOffset": 7}},
    "strokeDash": {"field": "kind", "type": "nominal", "scale": {"domain": ["Group of 2", "Group of 100", "CDF as % of Files", "CDF as % of Groups"], "range": [[1, 0], [1.2, 1.8], [1, 0], [1.2, 1.8]]}, "legend": {"title": null, "orient": "none", "legendX": 303, "legendY": -49, "direction": "horizontal", "symbolType": "stroke", "symbolSize": 500, "symbolStrokeWidth": 1.5, "labelFontSize": 10.5, "labelFont": "DejaVu Serif", "labelColor": "#000", "columnPadding": 19, "labelOffset": 7}}
   }}
 ],
 "resolve": {"axis": {"x": "independent", "y": "independent"}}
},
{"title": "Taxonomy...", "width": 252, "height": 149,
 "transform": [{"filter": {"field": "d", "equal": "Taxonomy..."}}],
 "layer": [
  {"transform": [{"filter": {"field": "kind", "oneOf": ["CDF as % of Files", "CDF as % of Groups"]}}],
   "mark": {"type": "line", "color": "#0000ff", "strokeWidth": 1.2, "interpolate": "linear"},
   "encoding": {
    "x": {"field": "x", "type": "quantitative", "scale": {"type": "log", "domain": [1.75e-7, 0.85], "nice": false}, "axis": {"orient": "bottom", "values": [2e-7,3e-7,4e-7,5e-7,6e-7,7e-7,8e-7,9e-7,1e-6,2e-6,3e-6,4e-6,5e-6,6e-6,7e-6,8e-6,9e-6,1e-5,2e-5,3e-5,4e-5,5e-5,6e-5,7e-5,8e-5,9e-5,1e-4,2e-4,3e-4,4e-4,5e-4,6e-4,7e-4,8e-4,9e-4,0.001,0.002,0.003,0.004,0.005,0.006,0.007,0.008,0.009,0.01,0.02,0.03,0.04,0.05,0.06,0.07,0.08,0.09,0.1,0.2,0.3,0.4,0.5,0.6,0.7,0.8], "labelExpr": "abs(log(datum.value)/LN10-round(log(datum.value)/LN10))<0.001 ? '10'+['⁻⁷','⁻⁶','⁻⁵','⁻⁴','⁻³','⁻²','⁻¹','⁰'][round(log(datum.value)/LN10)+7] : ''", "labelOverlap": false, "labelFlush": false, "tickSize": {"condition": {"test": "abs(log(datum.value)/LN10-round(log(datum.value)/LN10))<0.001", "value": -4}, "value": -2}, "labelPadding": 6, "title": "Normalized Group Size", "titlePadding": 3}},
    "y": {"field": "y", "type": "quantitative", "scale": {"domain": [0, 100], "nice": false}, "axis": {"orient": "left", "values": [0,5,10,15,20,25,30,35,40,45,50,55,60,65,70,75,80,85,90,95,100], "labelExpr": "datum.value % 20 == 0 ? datum.label : ''", "tickSize": {"condition": {"test": "datum.value % 20 == 0", "value": -4}, "value": -2}, "labelPadding": 7.5, "title": "% of Total", "titlePadding": 5}},
    "strokeDash": {"field": "kind", "type": "nominal", "scale": {"domain": ["Group of 2", "Group of 100", "CDF as % of Files", "CDF as % of Groups"], "range": [[1, 0], [1.2, 1.8], [1, 0], [1.2, 1.8]]}, "legend": {"title": null, "orient": "none", "legendX": 303, "legendY": -49, "direction": "horizontal", "symbolType": "stroke", "symbolSize": 500, "symbolStrokeWidth": 1.5, "labelFontSize": 10.5, "labelFont": "DejaVu Serif", "labelColor": "#000", "columnPadding": 19, "labelOffset": 7}}
   }},
  {"transform": [{"filter": {"field": "kind", "oneOf": ["Group of 2", "Group of 100"]}}],
   "mark": {"type": "rule", "strokeWidth": 1.2},
   "encoding": {
    "x": {"field": "x", "type": "quantitative", "scale": {"type": "log", "domain": [1.75e-7, 0.85], "nice": false}, "axis": {"orient": "top", "values": [2e-7,3e-7,4e-7,5e-7,6e-7,7e-7,8e-7,9e-7,1e-6,2e-6,3e-6,4e-6,5e-6,6e-6,7e-6,8e-6,9e-6,1e-5,2e-5,3e-5,4e-5,5e-5,6e-5,7e-5,8e-5,9e-5,1e-4,2e-4,3e-4,4e-4,5e-4,6e-4,7e-4,8e-4,9e-4,0.001,0.002,0.003,0.004,0.005,0.006,0.007,0.008,0.009,0.01,0.02,0.03,0.04,0.05,0.06,0.07,0.08,0.09,0.1,0.2,0.3,0.4,0.5,0.6,0.7,0.8], "labels": false, "title": null, "tickSize": {"condition": {"test": "abs(log(datum.value)/LN10-round(log(datum.value)/LN10))<0.001", "value": -4}, "value": -2}}},
    "y": {"datum": 0, "type": "quantitative", "scale": {"domain": [0, 100], "nice": false}, "axis": {"orient": "right", "values": [0,5,10,15,20,25,30,35,40,45,50,55,60,65,70,75,80,85,90,95,100], "labels": false, "title": null, "tickSize": {"condition": {"test": "datum.value % 20 == 0", "value": -4}, "value": -2}}},
    "y2": {"datum": 100},
    "color": {"field": "kind", "type": "nominal", "scale": {"domain": ["Group of 2", "Group of 100", "CDF as % of Files", "CDF as % of Groups"], "range": ["#000000", "#000000", "#0000ff", "#0000ff"]}, "legend": {"title": null, "orient": "none", "legendX": 303, "legendY": -49, "direction": "horizontal", "symbolType": "stroke", "symbolSize": 500, "symbolStrokeWidth": 1.5, "labelFontSize": 10.5, "labelFont": "DejaVu Serif", "labelColor": "#000", "columnPadding": 19, "labelOffset": 7}},
    "strokeDash": {"field": "kind", "type": "nominal", "scale": {"domain": ["Group of 2", "Group of 100", "CDF as % of Files", "CDF as % of Groups"], "range": [[1, 0], [1.2, 1.8], [1, 0], [1.2, 1.8]]}, "legend": {"title": null, "orient": "none", "legendX": 303, "legendY": -49, "direction": "horizontal", "symbolType": "stroke", "symbolSize": 500, "symbolStrokeWidth": 1.5, "labelFontSize": 10.5, "labelFont": "DejaVu Serif", "labelColor": "#000", "columnPadding": 19, "labelOffset": 7}}
   }}
 ],
 "resolve": {"axis": {"x": "independent", "y": "independent"}}
},
{"title": "Draper VDISC", "width": 252, "height": 149,
 "transform": [{"filter": {"field": "d", "equal": "Draper VDISC"}}],
 "layer": [
  {"transform": [{"filter": {"field": "kind", "oneOf": ["CDF as % of Files", "CDF as % of Groups"]}}],
   "mark": {"type": "line", "color": "#1e90ff", "strokeWidth": 1.2, "interpolate": "monotone"},
   "encoding": {
    "x": {"field": "x", "type": "quantitative", "scale": {"type": "log", "domain": [1.75e-7, 0.85], "nice": false}, "axis": {"orient": "bottom", "values": [2e-7,3e-7,4e-7,5e-7,6e-7,7e-7,8e-7,9e-7,1e-6,2e-6,3e-6,4e-6,5e-6,6e-6,7e-6,8e-6,9e-6,1e-5,2e-5,3e-5,4e-5,5e-5,6e-5,7e-5,8e-5,9e-5,1e-4,2e-4,3e-4,4e-4,5e-4,6e-4,7e-4,8e-4,9e-4,0.001,0.002,0.003,0.004,0.005,0.006,0.007,0.008,0.009,0.01,0.02,0.03,0.04,0.05,0.06,0.07,0.08,0.09,0.1,0.2,0.3,0.4,0.5,0.6,0.7,0.8], "labelExpr": "abs(log(datum.value)/LN10-round(log(datum.value)/LN10))<0.001 ? '10'+['⁻⁷','⁻⁶','⁻⁵','⁻⁴','⁻³','⁻²','⁻¹','⁰'][round(log(datum.value)/LN10)+7] : ''", "labelOverlap": false, "labelFlush": false, "tickSize": {"condition": {"test": "abs(log(datum.value)/LN10-round(log(datum.value)/LN10))<0.001", "value": -4}, "value": -2}, "labelPadding": 6, "title": "Normalized Group Size", "titlePadding": 3}},
    "y": {"field": "y", "type": "quantitative", "scale": {"domain": [0, 100], "nice": false}, "axis": {"orient": "left", "values": [0,5,10,15,20,25,30,35,40,45,50,55,60,65,70,75,80,85,90,95,100], "labelExpr": "datum.value % 20 == 0 ? datum.label : ''", "tickSize": {"condition": {"test": "datum.value % 20 == 0", "value": -4}, "value": -2}, "labelPadding": 7.5, "title": "% of Total", "titlePadding": 5}},
    "strokeDash": {"field": "kind", "type": "nominal", "scale": {"domain": ["Group of 2", "Group of 100", "CDF as % of Files", "CDF as % of Groups"], "range": [[1, 0], [1.2, 1.8], [1, 0], [1.2, 1.8]]}, "legend": {"title": null, "orient": "none", "legendX": 303, "legendY": -49, "direction": "horizontal", "symbolType": "stroke", "symbolSize": 500, "symbolStrokeWidth": 1.5, "labelFontSize": 10.5, "labelFont": "DejaVu Serif", "labelColor": "#000", "columnPadding": 19, "labelOffset": 7}}
   }},
  {"transform": [{"filter": {"field": "kind", "oneOf": ["Group of 2", "Group of 100"]}}],
   "mark": {"type": "rule", "strokeWidth": 1.2},
   "encoding": {
    "x": {"field": "x", "type": "quantitative", "scale": {"type": "log", "domain": [1.75e-7, 0.85], "nice": false}, "axis": {"orient": "top", "values": [2e-7,3e-7,4e-7,5e-7,6e-7,7e-7,8e-7,9e-7,1e-6,2e-6,3e-6,4e-6,5e-6,6e-6,7e-6,8e-6,9e-6,1e-5,2e-5,3e-5,4e-5,5e-5,6e-5,7e-5,8e-5,9e-5,1e-4,2e-4,3e-4,4e-4,5e-4,6e-4,7e-4,8e-4,9e-4,0.001,0.002,0.003,0.004,0.005,0.006,0.007,0.008,0.009,0.01,0.02,0.03,0.04,0.05,0.06,0.07,0.08,0.09,0.1,0.2,0.3,0.4,0.5,0.6,0.7,0.8], "labels": false, "title": null, "tickSize": {"condition": {"test": "abs(log(datum.value)/LN10-round(log(datum.value)/LN10))<0.001", "value": -4}, "value": -2}}},
    "y": {"datum": 0, "type": "quantitative", "scale": {"domain": [0, 100], "nice": false}, "axis": {"orient": "right", "values": [0,5,10,15,20,25,30,35,40,45,50,55,60,65,70,75,80,85,90,95,100], "labels": false, "title": null, "tickSize": {"condition": {"test": "datum.value % 20 == 0", "value": -4}, "value": -2}}},
    "y2": {"datum": 100},
    "color": {"field": "kind", "type": "nominal", "scale": {"domain": ["Group of 2", "Group of 100", "CDF as % of Files", "CDF as % of Groups"], "range": ["#000000", "#000000", "#0000ff", "#0000ff"]}, "legend": {"title": null, "orient": "none", "legendX": 303, "legendY": -49, "direction": "horizontal", "symbolType": "stroke", "symbolSize": 500, "symbolStrokeWidth": 1.5, "labelFontSize": 10.5, "labelFont": "DejaVu Serif", "labelColor": "#000", "columnPadding": 19, "labelOffset": 7}},
    "strokeDash": {"field": "kind", "type": "nominal", "scale": {"domain": ["Group of 2", "Group of 100", "CDF as % of Files", "CDF as % of Groups"], "range": [[1, 0], [1.2, 1.8], [1, 0], [1.2, 1.8]]}, "legend": {"title": null, "orient": "none", "legendX": 303, "legendY": -49, "direction": "horizontal", "symbolType": "stroke", "symbolSize": 500, "symbolStrokeWidth": 1.5, "labelFontSize": 10.5, "labelFont": "DejaVu Serif", "labelColor": "#000", "columnPadding": 19, "labelOffset": 7}}
   }}
 ],
 "resolve": {"axis": {"x": "independent", "y": "independent"}}
},
{"title": "Wild C", "width": 252, "height": 149,
 "transform": [{"filter": {"field": "d", "equal": "Wild C"}}],
 "layer": [
  {"transform": [{"filter": {"field": "kind", "oneOf": ["CDF as % of Files", "CDF as % of Groups"]}}],
   "mark": {"type": "line", "color": "#000000", "strokeWidth": 1.2, "interpolate": "monotone"},
   "encoding": {
    "x": {"field": "x", "type": "quantitative", "scale": {"type": "log", "domain": [1.75e-7, 0.85], "nice": false}, "axis": {"orient": "bottom", "values": [2e-7,3e-7,4e-7,5e-7,6e-7,7e-7,8e-7,9e-7,1e-6,2e-6,3e-6,4e-6,5e-6,6e-6,7e-6,8e-6,9e-6,1e-5,2e-5,3e-5,4e-5,5e-5,6e-5,7e-5,8e-5,9e-5,1e-4,2e-4,3e-4,4e-4,5e-4,6e-4,7e-4,8e-4,9e-4,0.001,0.002,0.003,0.004,0.005,0.006,0.007,0.008,0.009,0.01,0.02,0.03,0.04,0.05,0.06,0.07,0.08,0.09,0.1,0.2,0.3,0.4,0.5,0.6,0.7,0.8], "labelExpr": "abs(log(datum.value)/LN10-round(log(datum.value)/LN10))<0.001 ? '10'+['⁻⁷','⁻⁶','⁻⁵','⁻⁴','⁻³','⁻²','⁻¹','⁰'][round(log(datum.value)/LN10)+7] : ''", "labelOverlap": false, "labelFlush": false, "tickSize": {"condition": {"test": "abs(log(datum.value)/LN10-round(log(datum.value)/LN10))<0.001", "value": -4}, "value": -2}, "labelPadding": 6, "title": "Normalized Group Size", "titlePadding": 3}},
    "y": {"field": "y", "type": "quantitative", "scale": {"domain": [0, 100], "nice": false}, "axis": {"orient": "left", "values": [0,5,10,15,20,25,30,35,40,45,50,55,60,65,70,75,80,85,90,95,100], "labelExpr": "datum.value % 20 == 0 ? datum.label : ''", "tickSize": {"condition": {"test": "datum.value % 20 == 0", "value": -4}, "value": -2}, "labelPadding": 7.5, "title": "% of Total", "titlePadding": 5}},
    "strokeDash": {"field": "kind", "type": "nominal", "scale": {"domain": ["Group of 2", "Group of 100", "CDF as % of Files", "CDF as % of Groups"], "range": [[1, 0], [1.2, 1.8], [1, 0], [1.2, 1.8]]}, "legend": {"title": null, "orient": "none", "legendX": 303, "legendY": -49, "direction": "horizontal", "symbolType": "stroke", "symbolSize": 500, "symbolStrokeWidth": 1.5, "labelFontSize": 10.5, "labelFont": "DejaVu Serif", "labelColor": "#000", "columnPadding": 19, "labelOffset": 7}}
   }},
  {"transform": [{"filter": {"field": "kind", "oneOf": ["Group of 2", "Group of 100"]}}],
   "mark": {"type": "rule", "strokeWidth": 1.2},
   "encoding": {
    "x": {"field": "x", "type": "quantitative", "scale": {"type": "log", "domain": [1.75e-7, 0.85], "nice": false}, "axis": {"orient": "top", "values": [2e-7,3e-7,4e-7,5e-7,6e-7,7e-7,8e-7,9e-7,1e-6,2e-6,3e-6,4e-6,5e-6,6e-6,7e-6,8e-6,9e-6,1e-5,2e-5,3e-5,4e-5,5e-5,6e-5,7e-5,8e-5,9e-5,1e-4,2e-4,3e-4,4e-4,5e-4,6e-4,7e-4,8e-4,9e-4,0.001,0.002,0.003,0.004,0.005,0.006,0.007,0.008,0.009,0.01,0.02,0.03,0.04,0.05,0.06,0.07,0.08,0.09,0.1,0.2,0.3,0.4,0.5,0.6,0.7,0.8], "labels": false, "title": null, "tickSize": {"condition": {"test": "abs(log(datum.value)/LN10-round(log(datum.value)/LN10))<0.001", "value": -4}, "value": -2}}},
    "y": {"datum": 0, "type": "quantitative", "scale": {"domain": [0, 100], "nice": false}, "axis": {"orient": "right", "values": [0,5,10,15,20,25,30,35,40,45,50,55,60,65,70,75,80,85,90,95,100], "labels": false, "title": null, "tickSize": {"condition": {"test": "datum.value % 20 == 0", "value": -4}, "value": -2}}},
    "y2": {"datum": 100},
    "color": {"field": "kind", "type": "nominal", "scale": {"domain": ["Group of 2", "Group of 100", "CDF as % of Files", "CDF as % of Groups"], "range": ["#000000", "#000000", "#0000ff", "#0000ff"]}, "legend": {"title": null, "orient": "none", "legendX": 303, "legendY": -49, "direction": "horizontal", "symbolType": "stroke", "symbolSize": 500, "symbolStrokeWidth": 1.5, "labelFontSize": 10.5, "labelFont": "DejaVu Serif", "labelColor": "#000", "columnPadding": 19, "labelOffset": 7}},
    "strokeDash": {"field": "kind", "type": "nominal", "scale": {"domain": ["Group of 2", "Group of 100", "CDF as % of Files", "CDF as % of Groups"], "range": [[1, 0], [1.2, 1.8], [1, 0], [1.2, 1.8]]}, "legend": {"title": null, "orient": "none", "legendX": 303, "legendY": -49, "direction": "horizontal", "symbolType": "stroke", "symbolSize": 500, "symbolStrokeWidth": 1.5, "labelFontSize": 10.5, "labelFont": "DejaVu Serif", "labelColor": "#000", "columnPadding": 19, "labelOffset": 7}}
   }}
 ],
 "resolve": {"axis": {"x": "independent", "y": "independent"}}
}
],
"resolve": {"scale": {"color": "shared", "strokeDash": "shared"}, "legend": {"color": "shared", "strokeDash": "shared"}},
"config": {
 "font": "DejaVu Serif",
 "view": {"stroke": "#000000", "strokeWidth": 1},
 "axis": {"grid": false, "domain": false, "labelFont": "DejaVu Serif", "labelFontSize": 10.5, "labelColor": "#000", "titleFont": "DejaVu Serif", "titleFontSize": 10.8, "titleFontWeight": "normal", "titleColor": "#000", "tickColor": "#000", "tickWidth": 0.8},
 "title": {"font": "DejaVu Serif", "fontSize": 12, "fontWeight": "normal", "color": "#000", "offset": -2}
}
}
